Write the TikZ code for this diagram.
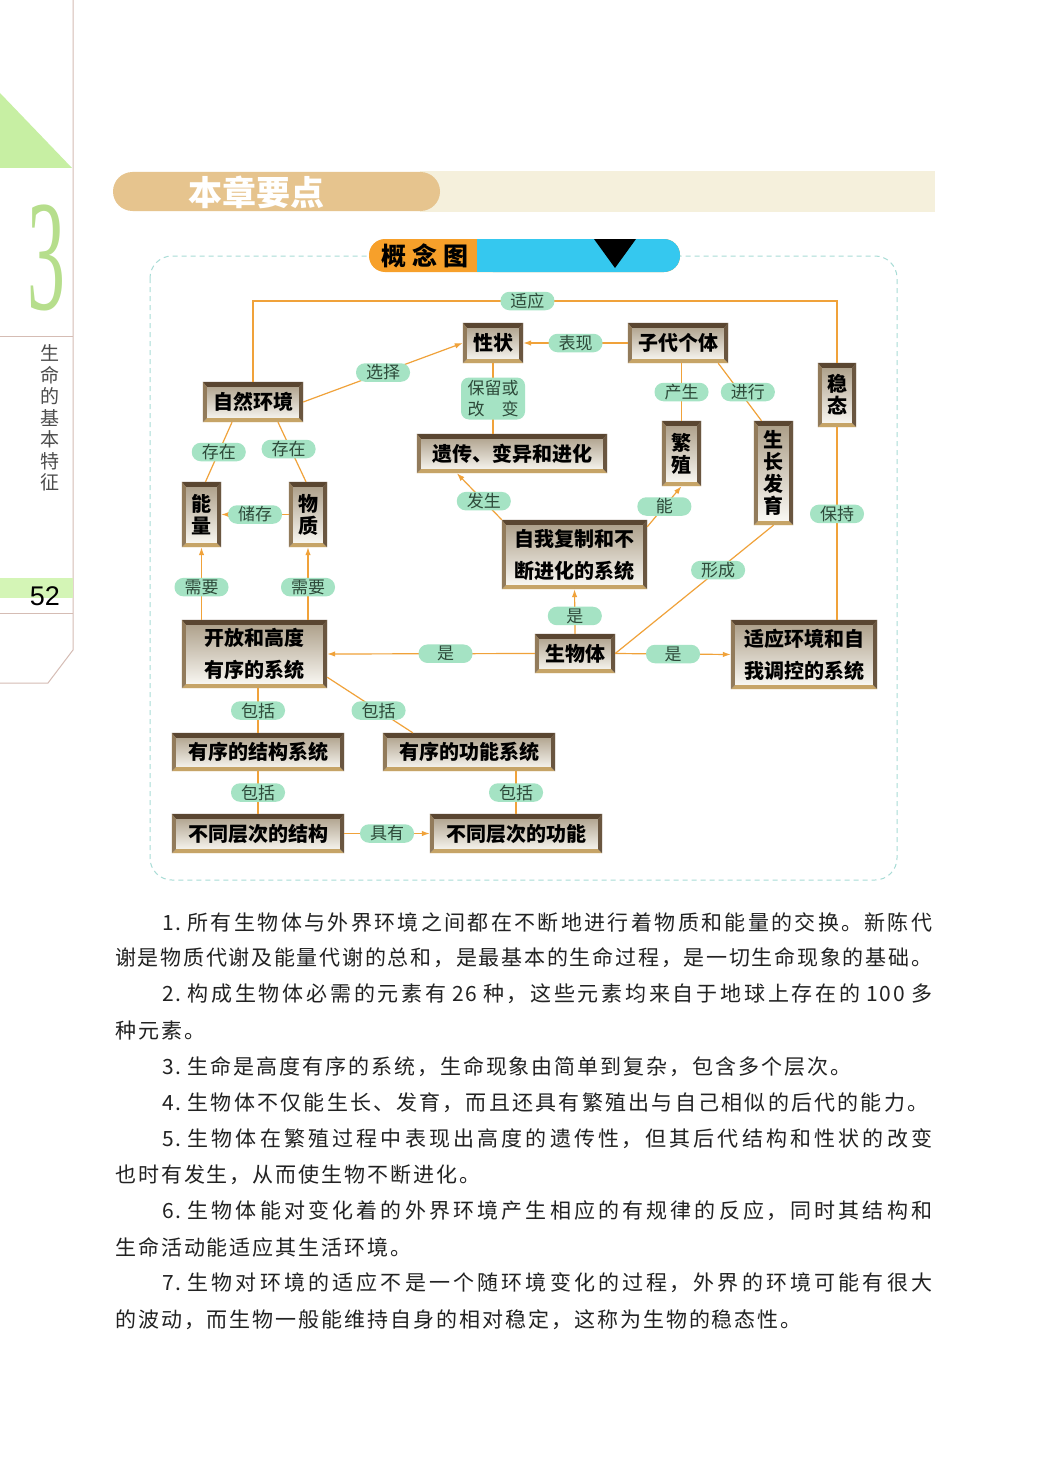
\documentclass[tikz,border=0pt]{standalone}
\usepackage{fontspec}
\setmainfont{Noto Sans CJK SC}
\newfontfamily\bodyfont{Noto Sans CJK SC}[LetterSpace=9.3]
\newfontfamily\numfont{Liberation Sans}
\newfontfamily\bignumfont{Liberation Serif}
\usetikzlibrary{calc,arrows.meta}
\XeTeXlinebreaklocale "zh"
\XeTeXlinebreakskip=0pt plus 4pt\relax
\definecolor{edgeorange}{HTML}{F0A23A}
\definecolor{tagmint}{HTML}{A5E3C4}
\definecolor{tagtext}{HTML}{2E4A3A}
\definecolor{frtop}{HTML}{5A4631}
\definecolor{frleft}{HTML}{927B5B}
\definecolor{frright}{HTML}{6A5640}
\definecolor{frbot}{HTML}{C6A467}
\definecolor{boxtop}{HTML}{A99B84}
\definecolor{boxmid}{HTML}{E4DCCE}
\definecolor{boxbot}{HTML}{FDFCF8}
\definecolor{dashteal}{HTML}{A8DCD6}
\definecolor{bannerorange}{HTML}{F7A02A}
\definecolor{bannerblue}{HTML}{35C8EF}
\definecolor{titletan}{HTML}{E6C48E}
\definecolor{titlebeige}{HTML}{F5F0DC}
\definecolor{margingreen}{HTML}{C7EFA3}
\definecolor{pagebar}{HTML}{D4F5B6}
\definecolor{numgreen}{HTML}{B6DE8C}
\definecolor{marginline}{HTML}{D5BCB4}
\definecolor{bodytext}{HTML}{222222}
\tikzset{
  link/.style={draw=edgeorange, line width=1.2pt},
  arr/.style={link, -{Latex[length=8pt,width=5.5pt]}},
  tag/.style={fill=tagmint, text=tagtext, rounded corners=9pt, minimum width=54pt,
    minimum height=18.5pt, inner sep=1pt, font=\fontsize{17pt}{18pt}\selectfont},
  twoline/.style={minimum width=64pt, minimum height=42pt, rounded corners=8pt,
    align=center, font=\fontsize{17pt}{21pt}\selectfont},
  cbox/.style={top color=boxtop, middle color=boxmid, bottom color=boxbot, inner sep=0pt,
    align=center, font=\fontsize{20pt}{22pt}\selectfont\bfseries},
  tallbox/.style={cbox, font=\fontsize{20pt}{32pt}\selectfont\bfseries},
  bodyline/.style={anchor=west, inner sep=0pt, text=bodytext, font=\fontsize{21pt}{21pt}\bodyfont},
  fullline/.style={bodyline, text width=#1, align=justify,
    execute at begin node={\parfillskip=0pt\relax}},
  edgeline/.style={draw=marginline, line width=1pt},
}
\newcommand{\bevel}[1]{%
  \fill[frtop] (#1.north west) -- (#1.north east) -- ($(#1.north east)+(-4,5)$) -- ($(#1.north west)+(4,5)$) -- cycle;
  \fill[frbot] (#1.south west) -- (#1.south east) -- ($(#1.south east)+(-4,-4)$) -- ($(#1.south west)+(4,-4)$) -- cycle;
  \fill[frleft] (#1.north west) -- ($(#1.north west)+(4,5)$) -- ($(#1.south west)+(4,-4)$) -- (#1.south west) -- cycle;
  \fill[frright] (#1.north east) -- ($(#1.north east)+(-4,5)$) -- ($(#1.south east)+(-4,-4)$) -- (#1.south east) -- cycle;
}
\newcommand{\gap}{\hspace{6pt}}

\begin{document}
\begin{tikzpicture}[x=1pt,y=-1pt]
  \fill[white] (0,0) rectangle (1048,1474);
  \useasboundingbox (0,0) rectangle (1048,1474);

  % page margin
  \fill[margingreen] (0,93) -- (72,168) -- (0,168) -- cycle;
  \draw[edgeline] (73,0) -- (73,650) -- (48,683) -- (0,683);
  \draw[edgeline] (0,336) -- (73,336);
  \fill[pagebar] (0,578) rectangle (73,598);
  \draw[edgeline] (0,613) -- (73,613);
  \node[text=numgreen, inner sep=0pt] (chapno) at (46.5,257.5)
    {\scalebox{0.48}[1]{\fontsize{158pt}{158pt}\bignumfont 3}};
  \node[text=black!70, inner sep=0pt, align=center, font=\fontsize{19pt}{21.5pt}\selectfont]
    (chapname) at (50,418) {生\\命\\的\\基\\本\\特\\征};
  \node[inner sep=0pt, font=\fontsize{27pt}{27pt}\numfont] (pageno) at (45,596) {52};

  % headings
  \fill[titlebeige] (420,171) rectangle (935,212);
  \fill[titletan, rounded corners=19.5pt] (113,172) rectangle (440,211);
  \node[text=white, font=\fontsize{34pt}{34pt}\selectfont\bfseries] (chaptitle) at (256,192) {本章要点};

  \draw[dashteal, line width=1pt, dash pattern=on 5pt off 4pt, rounded corners=22pt]
    (150,256) rectangle (897,880);
  \fill[bannerorange, rounded corners=16pt] (369,239) rectangle (680,272);
  \fill[bannerblue, rounded corners=16pt] (477,239) rectangle (680,272);
  \fill[bannerblue] (477,239) rectangle (500,272);
  \fill[black] (594,239) -- (636,239) -- (615,268) -- cycle;
  \node[font=\fontsize{25pt}{25pt}\selectfont\bfseries] (maptitle) at (425,255.5) {概 念 图};

  % concept boxes
  \node[cbox, minimum width=100pt, minimum height=40pt] (env) at (253,402) {自然环境};
  \node[cbox, minimum width=60pt, minimum height=40pt] (trait) at (493,343) {性状};
  \node[cbox, minimum width=190pt, minimum height=39pt] (heredity) at (512,453.5) {遗传、变异和进化};
  \node[cbox, minimum width=100pt, minimum height=40pt] (offspring) at (678,343) {子代个体};
  \node[cbox, minimum width=39pt, minimum height=65pt] (repro) at (681.5,453.5) {繁\\殖};
  \node[cbox, minimum width=39pt, minimum height=104pt] (growth) at (773.5,473) {生\\长\\发\\育};
  \node[cbox, minimum width=38pt, minimum height=64pt] (homeo) at (837,395) {稳\\态};
  \node[cbox, minimum width=39pt, minimum height=65pt] (energy) at (201.5,514.5) {能\\量};
  \node[cbox, minimum width=38pt, minimum height=65pt] (matter) at (308,514.5) {物\\质};
  \node[tallbox, minimum width=145pt, minimum height=69pt] (selfrep) at (574.5,554.5) {自我复制和不\\断进化的系统};
  \node[cbox, minimum width=80pt, minimum height=39pt] (organism) at (575,653.5) {生物体};
  \node[tallbox, minimum width=145pt, minimum height=68pt] (opensys) at (254.5,654) {开放和高度\\有序的系统};
  \node[tallbox, minimum width=146pt, minimum height=69pt] (adapt) at (804,654.5) {适应环境和自\\我调控的系统};
  \node[cbox, minimum width=172pt, minimum height=38pt] (structsys) at (258,752) {有序的结构系统};
  \node[cbox, minimum width=172pt, minimum height=38pt] (funcsys) at (469,752) {有序的功能系统};
  \node[cbox, minimum width=172pt, minimum height=39pt] (structlvl) at (258,833.5) {不同层次的结构};
  \node[cbox, minimum width=172pt, minimum height=39pt] (funclvl) at (516,833.5) {不同层次的功能};

  \foreach \n in {env,trait,heredity,offspring,repro,growth,homeo,energy,matter,selfrep,
    organism,opensys,adapt,structsys,funcsys,structlvl,funclvl} {\bevel{\n}}

  % connectors
  \coordinate (topR) at (homeo.north |- 0,301);
  \coordinate (topL) at (env.north |- 0,301);
  \draw[link] (homeo.north) -- (topR) -- node[tag, pos=0.53] (tAdapt) {适应} (topL) -- (env.north);
  \draw[arr] (env.east) -- node[tag] (tSelect) {选择} (trait.west);
  \draw[arr] (offspring.west) -- node[tag] (tShow) {表现} (trait.east);
  \draw[link] (trait.south) -- node[tag, twoline] (tKeep) {保留或\\改\hspace{1em}变} (trait.south |- heredity.north);
  \draw[arr] (selfrep.north west) -- node[tag, pos=0.4] (tHappen) {发生} ($(heredity.south west)+(40,0)$);
  \draw[link] ($(env.south)+(-21,0)$) -- node[tag] (tExist1) {存在} ($(energy.north)+(4,0)$);
  \draw[link] ($(env.south)+(25,0)$) -- node[tag, pos=0.45, xshift=-2pt] (tExist2) {存在} ($(matter.north)+(-2,0)$);
  \draw[arr] (matter.west) -- node[tag] (tStore) {储存} (energy.east);
  \draw[arr] (energy.south |- opensys.north) -- node[tag, pos=0.45] (tNeed1) {需要} (energy.south);
  \draw[arr] (matter.south |- opensys.north) -- node[tag, pos=0.45] (tNeed2) {需要} (matter.south);
  \draw[link] (repro.north |- offspring.south) -- node[tag] (tProduce) {产生} (repro.north);
  \draw[link] ($(offspring.south east)+(-10,0)$) -- node[tag, xshift=8pt] (tDo) {进行} ($(growth.north)+(-12,0)$);
  \draw[arr] ($(selfrep.north east)+(0,7)$) -- node[tag] (tCan) {能} (repro.south);
  \draw[link] (growth.south) -- node[tag, pos=0.35] (tForm) {形成} (organism.east);
  \draw[link] (homeo.south) -- node[tag, pos=0.45] (tHold) {保持} (homeo.south |- adapt.north);
  \draw[arr] (organism.north) -- node[tag, pos=0.4] (tIs1) {是} (selfrep.south);
  \draw[arr] (organism.west) -- node[tag, pos=0.43] (tIs2) {是} (opensys.east);
  \draw[arr] (organism.east) -- node[tag] (tIs3) {是} (adapt.west);
  \draw[link] (structsys.north |- opensys.south) -- node[tag] (tInc1) {包括} (structsys.north);
  \draw[link] ($(opensys.south east)+(0,-11)$) -- node[tag, pos=0.6] (tInc2) {包括} ($(funcsys.north west)+(30,0)$);
  \draw[link] (structsys.south) -- node[tag] (tInc3) {包括} (structlvl.north);
  \draw[link] (funclvl.north |- funcsys.south) -- node[tag] (tInc4) {包括} (funclvl.north);
  \draw[arr] (structlvl.east) -- node[tag] (tHave) {具有} (funclvl.west);

  % key points
  \node[fullline=770pt] (p1a) at (162,922) {1.\gap 所有生物体与外界环境之间都在不断地进行着物质和能量的交换。新陈代};
  \node[fullline=817pt] (p1b) at (115,958) {谢是物质代谢及能量代谢的总和，是最基本的生命过程，是一切生命现象的基础。};
  \node[fullline=770pt] (p2a) at (162,994) {2.\gap 构成生物体必需的元素有\gap 26\gap 种，这些元素均来自于地球上存在的\gap 100\gap 多};
  \node[bodyline] (p2b) at (115,1030) {种元素。};
  \node[bodyline] (p3) at (162,1067) {3.\gap 生命是高度有序的系统，生命现象由简单到复杂，包含多个层次。};
  \node[fullline=766pt] (p4) at (162,1103) {4.\gap 生物体不仅能生长、发育，而且还具有繁殖出与自己相似的后代的能力。};
  \node[fullline=770pt] (p5a) at (162,1139) {5.\gap 生物体在繁殖过程中表现出高度的遗传性，但其后代结构和性状的改变};
  \node[bodyline] (p5b) at (115,1175) {也时有发生，从而使生物不断进化。};
  \node[fullline=770pt] (p6a) at (162,1211) {6.\gap 生物体能对变化着的外界环境产生相应的有规律的反应，同时其结构和};
  \node[bodyline] (p6b) at (115,1247) {生命活动能适应其生活环境。};
  \node[fullline=770pt] (p7a) at (162,1283) {7.\gap 生物对环境的适应不是一个随环境变化的过程，外界的环境可能有很大};
  \node[bodyline] (p7b) at (115,1320) {的波动，而生物一般能维持自身的相对稳定，这称为生物的稳态性。};
\end{tikzpicture}
\end{document}
